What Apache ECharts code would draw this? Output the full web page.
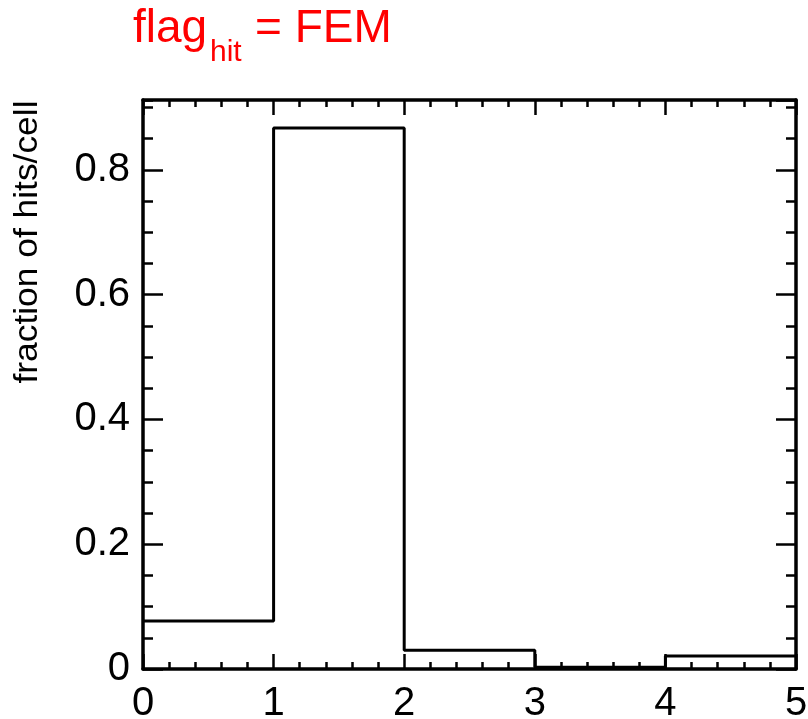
<!DOCTYPE html>
<html>
<head>
<meta charset="utf-8">
<script src="https://cdn.jsdelivr.net/npm/echarts@6/dist/echarts.min.js"></script>
<style>
html,body{margin:0;padding:0;background:#fff;}
#chart{width:808px;height:719px;}
</style>
</head>
<body>
<div id="chart"></div>
<script>
// bin edges of the histogram (x)
const binEdges = [0, 1, 2, 3, 4, 5];
// fraction of hits per cell in each bin
const fractions = [0.077, 0.867, 0.030, 0.003, 0.021];
// axis tick labels
const xTicks = [0, 1, 2, 3, 4, 5];
const yTicks = [0, 0.2, 0.4, 0.6, 0.8];
const yMax = 0.912;

// step points: each bin value starts at its left edge, last one repeated at the last edge
const stepData = binEdges.map((e, i) => [e, fractions[Math.min(i, fractions.length - 1)]]);

const FONT = '"Liberation Sans", Arial, Helvetica, sans-serif';
const chart = echarts.init(document.getElementById('chart'), null, {renderer: 'canvas'});

function xAx(pos, labels) {
  return {
    type: 'value', position: pos, min: 0, max: 5, interval: 1,
    axisLine: {show: true, onZero: false, lineStyle: {color: '#000', width: 3.5}},
    axisTick: {show: true, inside: true, length: 15, lineStyle: {color: '#000', width: 2.5}},
    minorTick: {show: true, splitNumber: 5, length: 7, lineStyle: {color: '#000', width: 2.5}},
    axisLabel: {show: labels, margin: 15, color: '#000', fontSize: 40, fontFamily: FONT,
      formatter: v => (xTicks.indexOf(v) >= 0 ? String(v) : '')},
    splitLine: {show: false}, minorSplitLine: {show: false}
  };
}
function yAx(pos, interval, len, labels, line) {
  return {
    type: 'value', position: pos, min: 0, max: yMax, interval: interval,
    axisLine: {show: line, onZero: false, lineStyle: {color: '#000', width: 3.5}},
    axisTick: {show: true, inside: true, length: len, lineStyle: {color: '#000', width: 2.5}},
    minorTick: {show: false},
    axisLabel: {show: labels, margin: 13, color: '#000', fontSize: 40, fontFamily: FONT,
      showMaxLabel: false,
      formatter: v => {
        const r = Math.round(v * 10) / 10;
        return yTicks.some(t => Math.abs(t - v) < 1e-6) ? (r === 0 ? '0' : r.toFixed(1)) : '';
      }},
    splitLine: {show: false}
  };
}

chart.setOption({
  backgroundColor: '#fff',
  animation: false,
  grid: {left: 143, right: 12, top: 100, bottom: 50, containLabel: false, outerBoundsMode: 'none'},
  xAxis: [xAx('bottom', true), xAx('top', false)],
  yAxis: [
    yAx('left', 0.2, 20, true, true),
    yAx('left', 0.05, 10, false, false),
    yAx('right', 0.2, 20, false, true),
    yAx('right', 0.05, 10, false, false)
  ],
  graphic: [
    {type: 'text', x: 133, y: 29, style: {text: 'flag', fill: '#ff0000', font: '46px ' + FONT, verticalAlign: 'middle', align: 'left'}},
    {type: 'text', x: 210, y: 53, style: {text: 'hit', fill: '#ff0000', font: '30px ' + FONT, verticalAlign: 'middle', align: 'left'}},
    {type: 'text', x: 255, y: 29, style: {text: '= FEM', fill: '#ff0000', font: '46px ' + FONT, verticalAlign: 'middle', align: 'left'}},
    {type: 'text', x: 28, y: 242, rotation: Math.PI / 2, scaleX: 1.04,
      style: {text: 'fraction of hits/cell', fill: '#000', font: '34px ' + FONT, verticalAlign: 'middle', align: 'center'}}
  ],
  series: [{
    type: 'line', xAxisIndex: 0, yAxisIndex: 0,
    step: 'end', data: stepData, symbol: 'none',
    lineStyle: {color: '#000', width: 3}
  }]
});
</script>
</body>
</html>
